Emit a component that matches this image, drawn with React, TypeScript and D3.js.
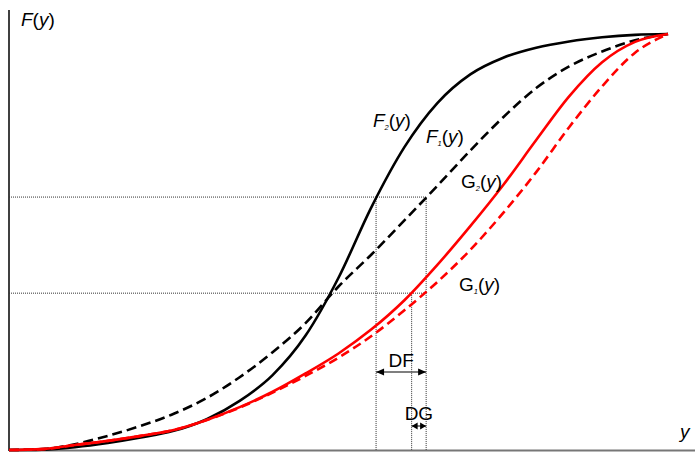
import React from "react";
import * as d3 from "d3";

// abscissa grid (y), shared by all four curves
const yGrid = [0, 0.05, 0.1, 0.15, 0.2, 0.25, 0.3, 0.35, 0.4, 0.45, 0.5, 0.55, 0.6, 0.65, 0.7, 0.75, 0.8, 0.85, 0.9, 0.95, 1];

// cumulative distributions
const F2 = [0, 0.001, 0.007, 0.017, 0.03, 0.046, 0.074, 0.118, 0.18, 0.275, 0.414, 0.584, 0.728, 0.834, 0.903, 0.943, 0.967, 0.982, 0.992, 0.998, 1];
const F1 = [0, 0.002, 0.014, 0.034, 0.058, 0.087, 0.125, 0.175, 0.235, 0.305, 0.393, 0.47, 0.552, 0.635, 0.72, 0.8, 0.87, 0.922, 0.958, 0.985, 1];
const G2 = [0, 0.002, 0.012, 0.022, 0.034, 0.048, 0.072, 0.103, 0.14, 0.184, 0.232, 0.29, 0.36, 0.445, 0.538, 0.637, 0.745, 0.85, 0.932, 0.981, 1];
const G1 = [0, 0.002, 0.012, 0.022, 0.034, 0.048, 0.072, 0.102, 0.138, 0.178, 0.222, 0.274, 0.336, 0.404, 0.481, 0.57, 0.668, 0.776, 0.874, 0.955, 1];

// reference levels and where the curves cross them
const levels = [0.608, 0.377];
const dfSpan = [0.557, 0.633];
const dgSpan = [0.611, 0.633];

const W = 695;
const H = 452;
const FONT = "'Liberation Sans', Arial, sans-serif";

const x = d3.scaleLinear().domain([0, 1]).range([9, 668]);
const yS = d3.scaleLinear().domain([0, 1]).range([450, 34]);

const line = d3
  .line<number>()
  .x((d, i) => x(yGrid[i]))
  .y((d) => yS(d))
  .curve(d3.curveMonotoneX);

const dotted = { stroke: "#333", strokeWidth: 1, strokeDasharray: "1,1", fill: "none" };

const Sub = ({ base, sub, italic, px, py }: any) => (
  <text x={px} y={py} fontFamily={FONT} fontSize={19} fill="#000">
    <tspan fontStyle={italic ? "italic" : "normal"}>{base}</tspan>
    <tspan fontSize={7.5} dy={3} fontStyle="italic">{sub}</tspan>
    <tspan dy={-3}>(</tspan>
    <tspan fontStyle="italic">y</tspan>
    <tspan>)</tspan>
  </text>
);

const DimArrow = ({ a, b, yy, head }: any) => {
  const x0 = x(a);
  const x1 = x(b);
  return (
    <g>
      <line x1={x0} x2={x1} y1={yy} y2={yy} stroke="#555" strokeWidth={1.5} />
      <path d={`M${x0},${yy} l${head},-3.5 l0,7 z`} fill="#000" />
      <path d={`M${x1},${yy} l${-head},-3.5 l0,7 z`} fill="#000" />
    </g>
  );
};

export default function App() {
  return (
    <svg width={W} height={H} style={{ position: "absolute", left: 0, top: 0, background: "#fff" }}>
      {/* axes */}
      <line x1={9} x2={9} y1={10} y2={451} stroke="#000" strokeWidth={1.5} />
      <line x1={9} x2={695} y1={450.5} y2={450.5} stroke="#777" strokeWidth={2} />

      {/* dotted guides */}
      <line x1={9} x2={x(dfSpan[1])} y1={yS(levels[0])} y2={yS(levels[0])} style={dotted} />
      <line x1={9} x2={x(dgSpan[1])} y1={yS(levels[1])} y2={yS(levels[1])} style={dotted} />
      <line x1={x(dfSpan[0])} x2={x(dfSpan[0])} y1={yS(levels[0])} y2={450} style={dotted} />
      <line x1={x(dfSpan[1])} x2={x(dfSpan[1])} y1={yS(levels[0])} y2={450} style={dotted} />
      <line x1={x(dgSpan[0])} x2={x(dgSpan[0])} y1={yS(levels[1])} y2={450} style={dotted} />

      {/* curves */}
      <path d={line(F1) || ""} fill="none" stroke="#000" strokeWidth={2.6} strokeDasharray="10,5" />
      <path d={line(F2) || ""} fill="none" stroke="#000" strokeWidth={2.6} />
      <path d={line(G1) || ""} fill="none" stroke="#ff0000" strokeWidth={2.6} strokeDasharray="9,5" />
      <path d={line(G2) || ""} fill="none" stroke="#ff0000" strokeWidth={2.6} />

      {/* labels */}
      <text x={21} y={26} fontFamily={FONT} fontSize={19}>
        <tspan fontStyle="italic">F</tspan>(<tspan fontStyle="italic">y</tspan>)
      </text>
      <text x={680} y={438} fontFamily={FONT} fontSize={19} fontStyle="italic">y</text>
      <Sub base="F" sub="2" italic px={373} py={127} />
      <Sub base="F" sub="1" italic px={426} py={143} />
      <Sub base="G" sub="2" px={461} py={188} />
      <Sub base="G" sub="1" px={459} py={291} />

      <DimArrow a={dfSpan[0]} b={dfSpan[1]} yy={372} head={8} />
      <text x={(x(dfSpan[0]) + x(dfSpan[1])) / 2} y={367} textAnchor="middle" fontFamily={FONT} fontSize={19}>DF</text>
      <DimArrow a={dgSpan[0]} b={dgSpan[1]} yy={426} head={6} />
      <text x={(x(dgSpan[0]) + x(dgSpan[1])) / 2} y={420} textAnchor="middle" fontFamily={FONT} fontSize={19}>DG</text>
    </svg>
  );
}
